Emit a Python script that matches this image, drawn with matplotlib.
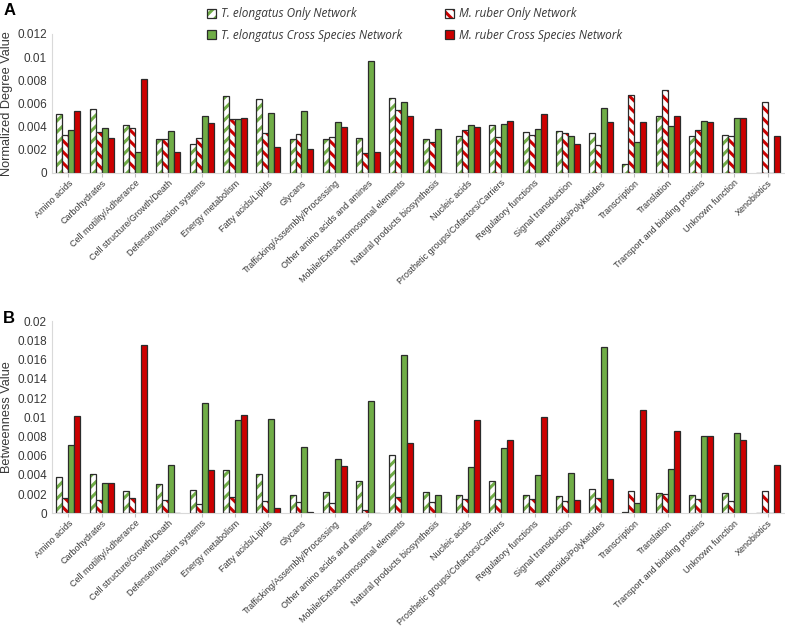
import matplotlib.pyplot as plt
import numpy as np
from matplotlib.patches import Patch

categorias = ["Amino acids", "Carbohydrates", "Cell motility/Adherance",
              "Cell structure/Growth/Death", "Defense/Invasion systems",
              "Energy metabolism", "Fatty acids/Lipids", "Glycans",
              "Trafficking/Assembly/Processing", "Other amino acids and amines",
              "Mobile/Extrachromosomal elements", "Natural products biosynthesis",
              "Nucleic acids", "Prosthetic groups/Cofactors/Carriers",
              "Regulatory functions", "Signal transduction",
              "Terpenoids/Polyketides", "Transcription", "Translation",
              "Transport and binding proteins", "Unknown function", "Xenobiotics"]

series = ["T. elongatus Only Network", "M. ruber Only Network",
          "T. elongatus Cross Species Network", "M. ruber Cross Species Network"]

# Panel A: grado normalizado (x 0.001)
grado_te_solo = [5.11, 5.51, 4.13, 2.91, 2.54, 6.64, 6.38, 2.91, 2.94, 3.06, 6.46,
                 2.97, 3.17, 4.13, 3.52, 3.64, 3.49, 0.81, 4.94, 3.15, 3.26, 0.0]
grado_mr_solo = [3.26, 3.55, 3.87, 2.91, 3.00, 4.65, 3.43, 3.35, 3.09, 1.70, 5.43,
                 2.66, 3.67, 3.09, 3.32, 3.41, 2.40, 6.72, 7.19, 3.75, 3.23, 6.12]
grado_te_cruz = [3.69, 3.92, 1.85, 3.61, 4.88, 4.62, 5.19, 5.31, 4.36, 9.64, 6.15,
                 3.78, 4.13, 4.24, 3.78, 3.20, 5.60, 2.66, 4.04, 4.47, 4.76, 0.0]
grado_mr_cruz = [5.34, 3.00, 8.11, 1.82, 4.33, 4.73, 2.22, 2.11, 4.01, 1.85, 4.88,
                 0.0, 4.01, 4.47, 5.08, 2.48, 4.42, 4.42, 4.94, 4.39, 4.73, 3.15]

# Panel B: betweenness (x 0.001)
betw_te_solo = [3.79, 4.07, 2.29, 3.06, 2.40, 4.48, 4.14, 1.88, 2.22, 3.34, 6.05,
                2.19, 1.88, 3.34, 1.91, 1.77, 2.50, 0.14, 2.09, 1.88, 2.09, 0.0]
betw_mr_solo = [1.63, 1.36, 1.56, 1.36, 0.97, 1.67, 1.25, 1.22, 1.08, 0.38, 1.67,
                1.15, 1.49, 1.49, 1.46, 1.25, 1.56, 2.29, 1.98, 1.53, 1.32, 2.36]
betw_te_cruz = [7.09, 3.13, 0.0, 5.00, 11.50, 9.73, 9.80, 6.88, 5.67, 11.71, 16.55,
                1.88, 4.80, 6.78, 3.96, 4.17, 17.38, 1.04, 4.66, 8.03, 8.38, 0.0]
betw_mr_cruz = [10.15, 3.13, 17.55, 0.0, 4.48, 10.22, 0.56, 0.10, 4.94, 0.0, 7.30,
                0.0, 9.70, 7.61, 10.08, 1.36, 3.61, 10.74, 8.55, 8.03, 7.68, 5.04]

verde = "#70AD47"
rojo = "#CC0000"
borde = "#2b2b2b"
gris = "#383838"

plt.rcParams['font.family'] = ['Liberation Sans', 'DejaVu Sans']
plt.rcParams['hatch.linewidth'] = 2.2


def barras(ax, datos, ymax, paso, etiqueta_y):
    x = np.arange(len(categorias))
    w = 0.18
    estilos = [("white", verde, "///"), ("white", rojo, "\\\\\\"),
               (verde, None, None), (rojo, None, None)]
    for i, (vals, (fc, hc, h)) in enumerate(zip(datos, estilos)):
        vals = np.array(vals) / 1000.0
        pos = x + (i - 1.5) * w
        if h:
            ax.bar(pos, vals, w, color=fc, edgecolor=hc, hatch=h, linewidth=0)
            ax.bar(pos, vals, w, fill=False, edgecolor=borde, linewidth=0.9)
        else:
            ax.bar(pos, vals, w, color=fc, edgecolor=borde, linewidth=0.9)
    ax.set_xlim(-0.5, len(categorias) - 0.5)
    ax.set_ylim(0, ymax)
    ax.set_yticks(np.arange(0, ymax + 1e-9, paso))
    ax.set_yticklabels(["0"] + ["%g" % v for v in np.arange(paso, ymax + 1e-9, paso)])
    ax.set_xticks(x)
    ax.set_xticklabels(categorias, rotation=44, ha='right', rotation_mode='anchor',
                       fontsize=6.5, color=gris)
    ax.tick_params(axis='y', length=0, labelsize=8.5, labelcolor=gris)
    ax.tick_params(axis='x', length=3, color="#bfbfbf", pad=1)
    for s in ['top', 'right']:
        ax.spines[s].set_visible(False)
    for s in ['left', 'bottom']:
        ax.spines[s].set_color("#d9d9d9")
    ax.set_ylabel(etiqueta_y, fontsize=9.2, color=gris, labelpad=3)


fig = plt.figure(figsize=(7.85, 6.29), dpi=100)
axA = fig.add_axes([0.066, 0.725, 0.933, 0.221])
axB = fig.add_axes([0.066, 0.184, 0.933, 0.305])

barras(axA, [grado_te_solo, grado_mr_solo, grado_te_cruz, grado_mr_cruz],
       0.012, 0.002, "Normalized Degree Value")
barras(axB, [betw_te_solo, betw_mr_solo, betw_te_cruz, betw_mr_cruz],
       0.02, 0.002, "Betweenness Value")

# leyenda: proxies con el mismo estilo (relleno rayado + borde oscuro)
marco = Patch(fill=False, edgecolor=borde, linewidth=0.9)
proxies = [(Patch(facecolor="white", edgecolor=verde, hatch="///", linewidth=0), marco),
           (Patch(facecolor="white", edgecolor=rojo, hatch="\\\\\\", linewidth=0), marco),
           Patch(facecolor=verde, edgecolor=borde, linewidth=0.9),
           Patch(facecolor=rojo, edgecolor=borde, linewidth=0.9)]
orden = [0, 2, 1, 3]
fig.legend([proxies[i] for i in orden], [series[i] for i in orden], ncol=2,
           loc='upper left', bbox_to_anchor=(0.25, 1.005), frameon=False,
           prop={'family': 'Open Sans', 'style': 'italic', 'size': 8.5},
           handlelength=0.8, handleheight=0.8, handletextpad=0.4,
           columnspacing=3.6, labelspacing=0.7, labelcolor=gris)

fig.text(0.004, 0.995, "A", fontsize=12, fontweight='bold', va='top')
fig.text(0.004, 0.505, "B", fontsize=12, fontweight='bold', va='top')

fig.savefig("out.png", dpi=100)
plt.close(fig)
